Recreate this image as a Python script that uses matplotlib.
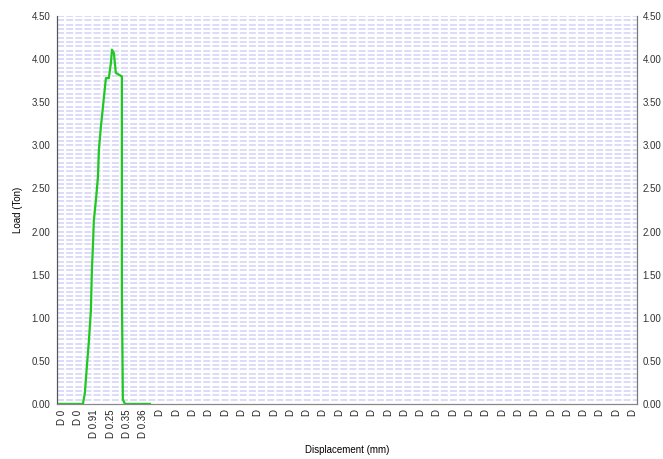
import matplotlib
matplotlib.use("Agg")
import matplotlib.pyplot as plt
import numpy as np

plt.rcParams['font.family'] = ['Liberation Sans', 'DejaVu Sans']

# x labels (categorical), 36 of them
x_labels = ["D 0", "D 0", "D 0.91", "D 0.25", "D 0.35", "D 0.36"] + ["D"] * 30

# load curve, x in label-index units
disp = [-0.3, 1.29, 1.41, 1.53, 1.66, 1.78, 1.84, 1.90, 1.96, 2.09, 2.21, 2.27,
        2.39, 2.52, 2.70, 2.88, 3.01, 3.07, 3.19, 3.31, 3.68, 3.68, 3.74, 3.87, 5.40]
load = [0.0, 0.0, 0.13, 0.43, 0.74, 1.09, 1.55, 1.82, 2.13, 2.37, 2.63, 2.95,
        3.21, 3.45, 3.78, 3.78, 3.96, 4.11, 4.07, 3.84, 3.80, 1.30, 0.05, 0.0, 0.0]

y_ticks = np.arange(0, 4.51, 0.5)

fig = plt.figure(figsize=(6.63, 4.59), dpi=100)
ax = fig.add_axes([0.086, 0.12, 0.875, 0.845])

# lavender dashed grid every 0.05
for g in np.arange(0.05, 4.51, 0.05):
    ax.axhline(g, color='#dcdcfa', lw=1.4, ls=(0, (3.6, 1.1)), zorder=0)

ax.plot(disp, load, color='#1ec81e', lw=1.6, zorder=3)

ax.set_xlim(-0.3, 35.3)
ax.set_ylim(0, 4.5)
ax.set_xticks(range(len(x_labels)))
ax.set_xticklabels(x_labels, rotation=90, fontsize=7, color='#222222')
ax.set_yticks(y_ticks)
ax.set_yticklabels(["%.2f" % v for v in y_ticks], fontsize=7, color='#333333')
ax.tick_params(length=0, pad=5)
ax.tick_params(axis='x', pad=4)

ax2 = ax.twinx()
ax2.set_ylim(0, 4.5)
ax2.set_yticks(y_ticks)
ax2.set_yticklabels(["%.2f" % v for v in y_ticks], fontsize=7, color='#333333')
ax2.tick_params(length=0, pad=4)

for a in (ax, ax2):
    a.spines['top'].set_visible(False)
    a.spines['left'].set_color('#555555')
    a.spines['right'].set_color('#777777')
    a.spines['bottom'].set_color('#888888')

ax.set_ylabel("Load (Ton)", fontsize=7, labelpad=6)
ax.set_xlabel("Displacement (mm)", fontsize=7, labelpad=5)

fig.savefig("out.png", dpi=100)
